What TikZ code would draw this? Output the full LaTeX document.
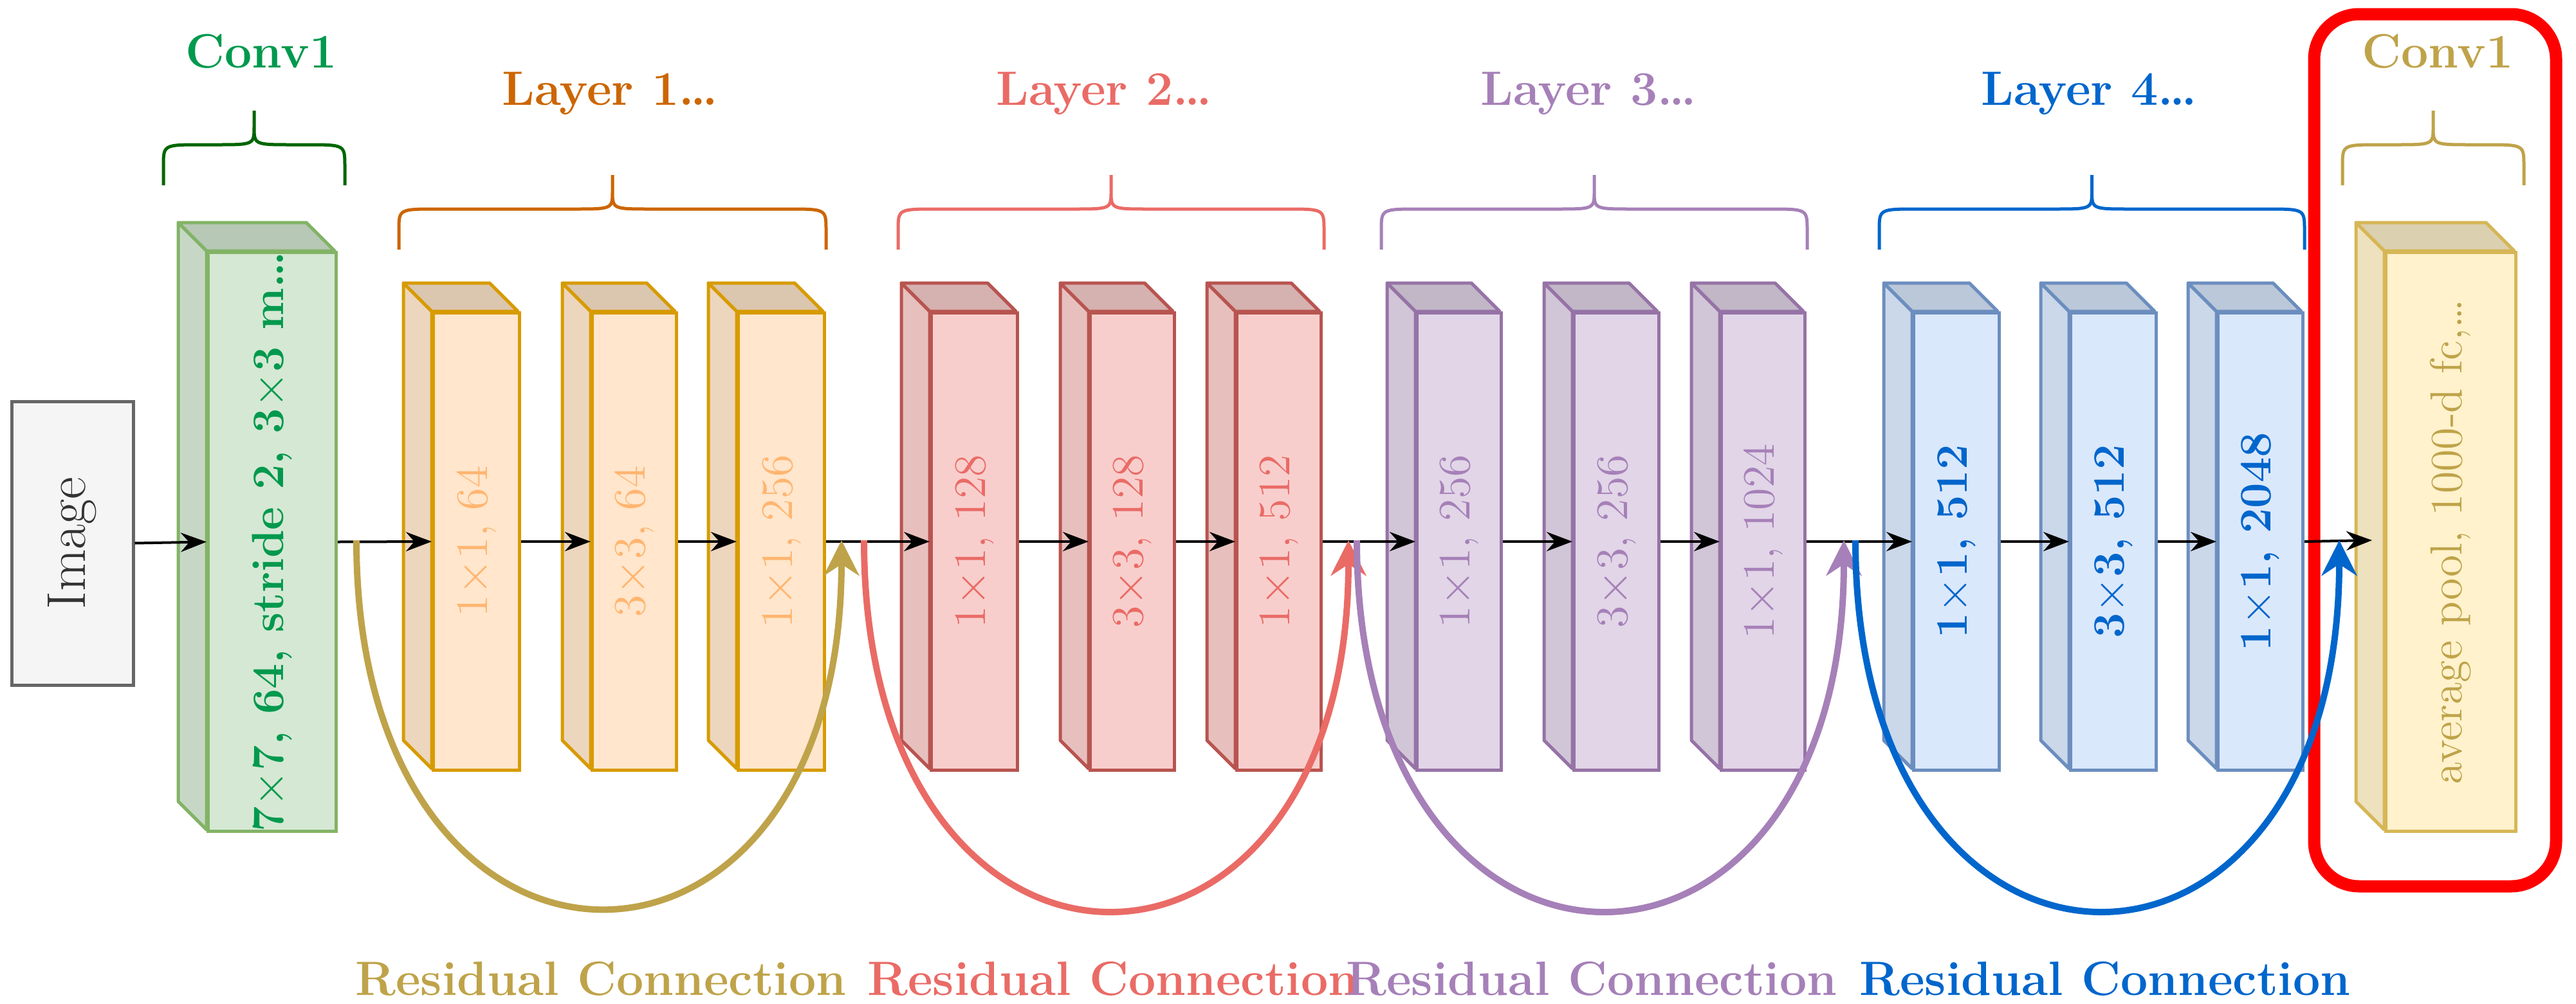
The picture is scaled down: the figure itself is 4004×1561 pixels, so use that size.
\documentclass[tikz,border=0pt]{standalone}
\usetikzlibrary{arrows.meta}
\definecolor{g0fill}{HTML}{D5E8D4}\definecolor{g0draw}{HTML}{82B366}\definecolor{g0text}{HTML}{00994D}
\definecolor{g1fill}{HTML}{FFE6CC}\definecolor{g1draw}{HTML}{D79B00}\definecolor{g1text}{HTML}{FFB570}
\definecolor{g2fill}{HTML}{F8CECC}\definecolor{g2draw}{HTML}{B85450}\definecolor{g2text}{HTML}{EA6B66}
\definecolor{g3fill}{HTML}{E1D5E7}\definecolor{g3draw}{HTML}{9673A6}\definecolor{g3text}{HTML}{A680B8}
\definecolor{g4fill}{HTML}{DAE8FC}\definecolor{g4draw}{HTML}{6C8EBF}\definecolor{g4text}{HTML}{0066CC}
\definecolor{g5fill}{HTML}{FFF2CC}\definecolor{g5draw}{HTML}{D6B656}\definecolor{g5text}{HTML}{BFA34A}
\definecolor{cgreen}{HTML}{00994D}\definecolor{cdkgreen}{HTML}{006600}
\definecolor{corange}{HTML}{CC6600}\definecolor{cgold}{HTML}{BFA34A}
\tikzset{
  g0font/.style={font=\fontsize{14}{16}\selectfont\bfseries},
  g1font/.style={font=\fontsize{14}{16}\selectfont},
  g2font/.style={font=\fontsize{14}{16}\selectfont},
  g3font/.style={font=\fontsize{14}{16}\selectfont},
  g4font/.style={font=\fontsize{14}{16}\selectfont\bfseries},
  g5font/.style={font=\fontsize{14}{16}\selectfont},
  title/.style={font=\fontsize{15}{18}\selectfont\bfseries},
  flow/.style={line width=0.8pt,-{Stealth[length=8pt,width=6pt]}},
  resid/.style={line width=2pt},
  brc/.style={line width=1pt},
}
\newcommand\blk[7]{%
  \filldraw[fill=#6fill!93!black,draw=#6draw,line width=1pt,line join=round]
    (#2-44,#4-44) -- (#2,#4) -- (#2,#5) -- (#2-44,#5-44) -- cycle;
  \filldraw[fill=#6fill!86!black,draw=#6draw,line width=1pt,line join=round]
    (#2-44,#4-44) -- (#3-44,#4-44) -- (#3,#4) -- (#2,#4) -- cycle;
  \node[draw=#6draw,fill=#6fill,line width=1pt,inner sep=0pt,anchor=north west,
        minimum width={(#3-#2)*0.2pt},minimum height={(#5-#4)*0.2pt}] (#1) at (#2,#4) {};
  \node[rotate=90,text=#6text,#6font] (#1t) at (#1.center) {#7};
}
\newcommand\mybrace[5]{% x1 x2 ytop ybot color
  \draw[brc,draw=#5,line join=round] (#1,#4) -- (#1,#4-30) .. controls (#1,#4-63) .. (#1+60,#4-63)
    -- ({(#1+#2)/2-60},#4-63) .. controls ({(#1+#2)/2},#4-63) .. ({(#1+#2)/2},#3+25) -- ({(#1+#2)/2},#3)
    ({(#1+#2)/2},#3+25) .. controls ({(#1+#2)/2},#4-63) .. ({(#1+#2)/2+60},#4-63)
    -- (#2-60,#4-63) .. controls (#2,#4-63) .. (#2,#4-30) -- (#2,#4);
}
\begin{document}
\begin{tikzpicture}[x=0.2pt,y=-0.2pt]
\useasboundingbox (0,0) rectangle (4004,1561);
% highlight
\node[draw=red,line width=3.8pt,rounded corners=14pt,minimum width={376*0.2pt},minimum height={1356*0.2pt},inner sep=0pt] (hl) at (3785,700) {};
% image
\node[draw=black!60,fill=black!4,line width=1pt,minimum width={189*0.2pt},minimum height={441*0.2pt},inner sep=0pt] (img) at (112.5,844.5) {};
\node[rotate=90,text=black!80,font=\fontsize{17}{20}\selectfont] (imgt) at (img.center) {Image};
% blocks
\blk{c1}{321}{520}{390}{1290}{g0}{7$\times$7, 64, stride 2, 3$\times$3 m\ldots}
\blk{a1}{671}{805}{484}{1195}{g1}{1$\times$1, 64}
\blk{a2}{918}{1049}{484}{1195}{g1}{3$\times$3, 64}
\blk{a3}{1145}{1279}{484}{1195}{g1}{1$\times$1, 256}
\blk{b1}{1445}{1579}{484}{1195}{g2}{1$\times$1, 128}
\blk{b2}{1692}{1823}{484}{1195}{g2}{3$\times$3, 128}
\blk{b3}{1920}{2051}{484}{1195}{g2}{1$\times$1, 512}
\blk{d1}{2200}{2331}{484}{1195}{g3}{1$\times$1, 256}
\blk{d2}{2444}{2576}{484}{1195}{g3}{3$\times$3, 256}
\blk{d3}{2673}{2803}{484}{1195}{g3}{1$\times$1, 1024}
\blk{e1}{2972}{3105}{484}{1195}{g4}{1$\times$1, 512}
\blk{e2}{3216}{3349}{484}{1195}{g4}{3$\times$3, 512}
\blk{e3}{3445}{3577}{484}{1195}{g4}{1$\times$1, 2048}
\blk{f1}{3706}{3908}{390}{1290}{g5}{average pool, 1000-d fc,\ldots}
% braces
\mybrace{254}{536}{172}{288}{cdkgreen}
\mybrace{620}{1284}{272}{388}{corange}
\mybrace{1396}{2058}{272}{388}{g2text}
\mybrace{2147}{2809}{272}{388}{g3text}
\mybrace{2921}{3582}{272}{388}{g4text}
\mybrace{3641}{3923}{172}{288}{cgold}
% titles
\node[title,text=cgreen] (t0) at (406,80) {Conv1};
\node[title,text=corange] (t1) at (948,145) {Layer 1\ldots};
\node[title,text=g2text] (t2) at (1716,145) {Layer 2\ldots};
\node[title,text=g3text] (t3) at (2469,145) {Layer 3\ldots};
\node[title,text=g4text] (t4) at (3247,145) {Layer 4\ldots};
\node[title,text=cgold] (t5) at (3789,80) {Conv1};
\node[title,text=cgold] (r1) at (934,1522) {Residual Connection};
\node[title,text=g2text] (r2) at (1730,1522) {Residual Connection};
\node[title,text=g3text] (r3) at (2474,1522) {Residual Connection};
\node[title,text=g4text] (r4) at (3272,1522) {Residual Connection};
% flow arrows
\draw[flow] (img.east) -- (c1.west);
\draw[flow] (c1.east) -- (a1.west);
\draw[flow] (a1.east) -- (a2.west);
\draw[flow] (a2.east) -- (a3.west);
\draw[flow] (a3.east) -- (b1.west);
\draw[flow] (b1.east) -- (b2.west);
\draw[flow] (b2.east) -- (b3.west);
\draw[flow] (b3.east) -- (d1.west);
\draw[flow] (d1.east) -- (d2.west);
\draw[flow] (d2.east) -- (d3.west);
\draw[flow] (d3.east) -- (e1.west);
\draw[flow] (e1.east) -- (e2.west);
\draw[flow] (e2.east) -- (e3.west);
\coordinate (fin) at (3687,840);
\draw[flow] (e3.east) -- (fin);
% residual arcs
\coordinate (s1) at (554,840); \coordinate (m1) at (1308,840);
\coordinate (s2) at (1343,840); \coordinate (m2) at (2096,840);
\coordinate (s3) at (2109,840); \coordinate (m3) at (2866,840);
\coordinate (s4) at (2884,840); \coordinate (m4) at (3636,840);
\draw[resid,draw=cgold,-{Stealth[length=11pt,width=11pt]}] (s1) .. controls (554,1600) and (1308,1600) .. (m1);
\draw[resid,draw=g2text,-{Stealth[length=11pt,width=11pt]}] (s2) .. controls (1343,1605) and (2096,1605) .. (m2);
\draw[resid,draw=g3text,-{Stealth[length=11pt,width=11pt]}] (s3) .. controls (2109,1605) and (2866,1605) .. (m3);
\draw[resid,draw=g4text,-{Stealth[length=11pt,width=11pt]}] (s4) .. controls (2884,1605) and (3636,1605) .. (m4);
\end{tikzpicture}
\end{document}
